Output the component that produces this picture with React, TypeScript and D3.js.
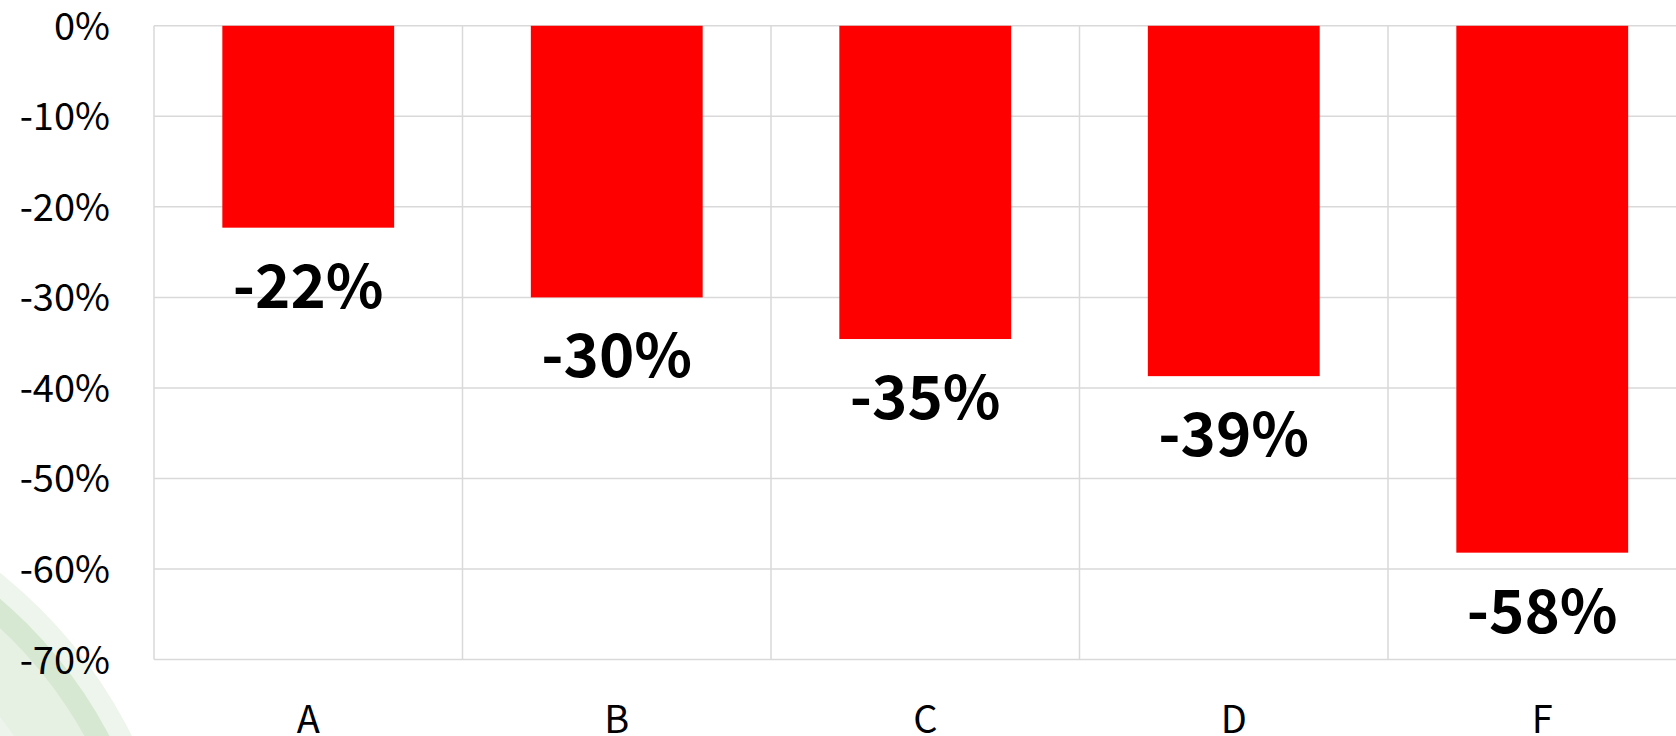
import React from "react";
import * as d3 from "d3";

const categories = ["A", "B", "C", "D", "F"];
const values = [-0.223, -0.3, -0.346, -0.387, -0.582];
const yTicks = [0, -0.1, -0.2, -0.3, -0.4, -0.5, -0.6, -0.7];

const W = 1676;
const H = 736;
const FONT = "'Noto Sans CJK JP', 'Noto Sans', sans-serif";

// percent format with a plain hyphen for the sign
const fmt = d3.format(".0%");
const pct = (v: number) => fmt(v).replace("\u2212", "-");

export default function App() {
  const left = 154;
  const step = 308.5;
  const right = left + step * categories.length;
  const top = 25.8;
  const bottom = 659.5;

  const x = d3
    .scaleBand<string>()
    .domain(categories)
    .range([left, right])
    .paddingInner(0.443)
    .paddingOuter(0.2215);
  const y = d3.scaleLinear().domain([-0.7, 0]).range([bottom, top]);

  // decorative swoosh in the lower-left corner
  const cx = -300;
  const cy = 950;
  const arcs = [
    { r: 482, fill: "#eef5ec" },
    { r: 462, fill: "#d6e8d1" },
    { r: 440, fill: "#e6f0e3" },
    { r: 380, fill: "#edf4eb" },
  ];

  return (
    <svg
      width={W}
      height={H}
      style={{ position: "absolute", left: 0, top: 0, background: "#fff" }}
    >
      {arcs.map((a, i) => (
        <circle key={i} cx={cx} cy={cy} r={a.r} fill={a.fill} />
      ))}

      {/* horizontal gridlines */}
      {yTicks.map((t) => (
        <line
          key={"h" + t}
          x1={left}
          x2={right}
          y1={y(t)}
          y2={y(t)}
          stroke="#d9d9d9"
          strokeWidth={1.5}
        />
      ))}
      {/* vertical gridlines at category boundaries */}
      {d3.range(categories.length + 1).map((i) => (
        <line
          key={"v" + i}
          x1={left + i * step}
          x2={left + i * step}
          y1={top}
          y2={bottom}
          stroke="#d9d9d9"
          strokeWidth={1.5}
        />
      ))}

      {/* y tick labels */}
      {yTicks.map((t) => (
        <text
          key={"t" + t}
          x={110}
          y={y(t) + 14}
          textAnchor="end"
          fontFamily={FONT}
          fontSize={38}
          fill="#000"
        >
          {pct(t)}
        </text>
      ))}

      {/* bars */}
      {categories.map((c, i) => (
        <rect
          key={c}
          x={x(c)}
          y={y(0)}
          width={x.bandwidth()}
          height={y(values[i]) - y(0)}
          fill="#ff0000"
        />
      ))}

      {/* value labels */}
      {categories.map((c, i) => (
        <text
          key={"l" + c}
          x={(x(c) as number) + x.bandwidth() / 2}
          y={y(values[i]) + 80}
          textAnchor="middle"
          fontFamily={FONT}
          fontWeight="bold"
          fontSize={60}
          fill="#000"
        >
          {pct(values[i])}
        </text>
      ))}

      {/* category labels */}
      {categories.map((c) => (
        <text
          key={"c" + c}
          x={(x(c) as number) + x.bandwidth() / 2}
          y={733}
          textAnchor="middle"
          fontFamily={FONT}
          fontSize={38}
          fill="#000"
        >
          {c}
        </text>
      ))}
    </svg>
  );
}
